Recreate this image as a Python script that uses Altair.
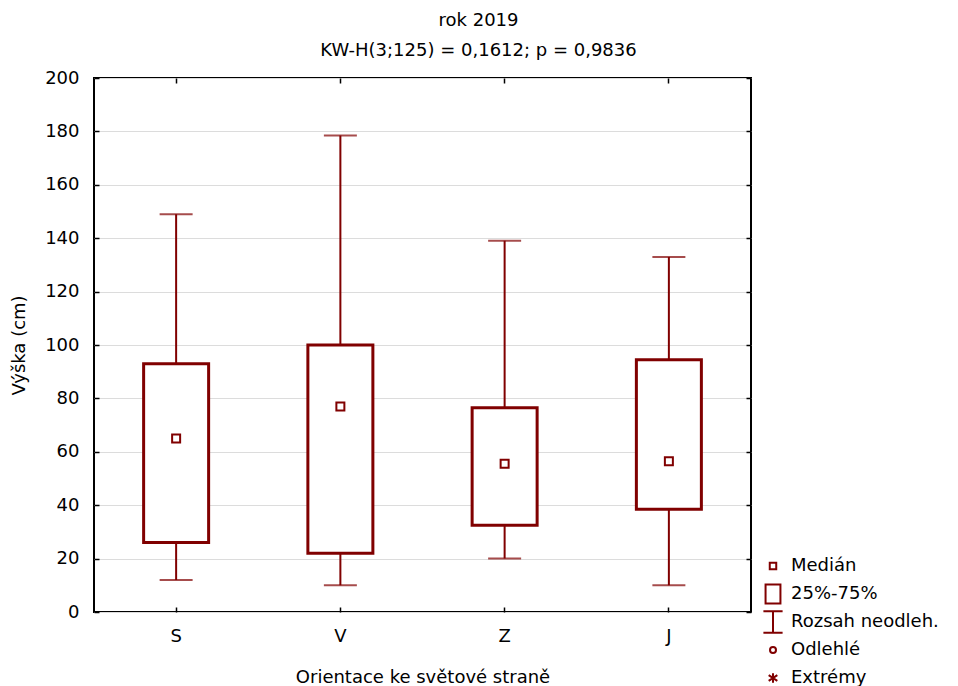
import altair as alt
import pandas as pd

# Box-plot statistics per orientation
categories = ["S", "V", "Z", "J"]
medians = [65, 77, 55.5, 56.5]
q1 = [26, 22, 32.5, 38.5]
q3 = [93, 100, 76.5, 94.5]
whisker_low = [12, 10, 20, 10]
whisker_high = [149, 178.5, 139, 133]

y_ticks = list(range(0, 201, 20))

legend_items = ["Medián", "25%-75%", "Rozsah neodleh.", "Odlehlé", "Extrémy"]
# custom legend glyphs in Vega's unit symbol space (1 unit = sqrt(size)/2 px)
legend_paths = [
    "M-0.27,-0.27H0.27V0.27H-0.27Z",
    "M-0.62,-0.8H0.62V0.8H-0.62Z",
    "M-0.8,-0.9H0.8M0,-0.9V0.9M-0.8,0.9H0.8",
    "M0.25,0A0.25,0.25,0,1,1,-0.25,0A0.25,0.25,0,1,1,0.25,0Z",
    "M0,-0.4V0.4M-0.36,-0.24L0.36,0.24M-0.36,0.24L0.36,-0.24",
]

DARK_RED = "#800000"
FONT = "DejaVu Sans"
FONT_SIZE = 18

df = pd.DataFrame({
    "cat": categories,
    "med": medians,
    "q1": q1,
    "q3": q3,
    "lo": whisker_low,
    "hi": whisker_high,
})

x_scale = alt.Scale(domain=categories, paddingInner=0, paddingOuter=0)
y_scale = alt.Scale(domain=[0, 200], nice=False, zero=True)

x_bottom = alt.Axis(
    orient="bottom", title="Orientace ke světové straně", labelAngle=0,
    domain=False, grid=False, offset=-5, tickSize=5, tickWidth=1.5,
    tickColor="black", labelPadding=15, titlePadding=23,
)
y_left = alt.Axis(
    orient="left", title="Výška (cm)", values=y_ticks, domain=False,
    grid=True, gridColor="#dcdcdc", gridWidth=1.2, offset=-5, tickSize=5,
    tickWidth=1.5, tickColor="black", labelPadding=15, titlePadding=16,
)
x_top = alt.Axis(
    orient="top", title=None, labels=False, domain=False, grid=False,
    offset=-5, tickSize=5, tickWidth=1.5, tickColor="black",
)
y_right = alt.Axis(
    orient="right", title=None, labels=False, domain=False, grid=False,
    values=y_ticks, offset=-5, tickSize=5, tickWidth=1.5, tickColor="black",
)

base = alt.Chart(df)

whiskers = base.mark_rule(color=DARK_RED, strokeWidth=2).encode(
    x=alt.X("cat:N", scale=x_scale, sort=categories, axis=x_bottom),
    y=alt.Y("lo:Q", scale=y_scale, axis=y_left),
    y2="hi:Q",
)

cap_low = base.mark_tick(color=DARK_RED, size=33, thickness=2).encode(
    x=alt.X("cat:N", scale=x_scale, sort=categories, axis=None),
    y=alt.Y("lo:Q", scale=y_scale, axis=None),
)
cap_high = base.mark_tick(color=DARK_RED, size=33, thickness=2).encode(
    x=alt.X("cat:N", scale=x_scale, sort=categories, axis=None),
    y=alt.Y("hi:Q", scale=y_scale, axis=None),
)

boxes = base.mark_bar(size=65, fill="white", stroke=DARK_RED, strokeWidth=3).encode(
    x=alt.X("cat:N", scale=x_scale, sort=categories, axis=x_top),
    y=alt.Y("q1:Q", scale=y_scale, axis=y_right),
    y2="q3:Q",
)

median_pts = base.mark_point(
    shape="square", size=64, filled=False, color=DARK_RED, strokeWidth=2, opacity=1
).encode(
    x=alt.X("cat:N", scale=x_scale, sort=categories, axis=None),
    y=alt.Y("med:Q", scale=y_scale, axis=None),
)

legend_layer = alt.Chart(pd.DataFrame({"item": legend_items})).mark_point(
    opacity=0, filled=False
).encode(
    shape=alt.Shape(
        "item:N",
        sort=legend_items,
        scale=alt.Scale(domain=legend_items, range=legend_paths),
        legend=alt.Legend(
            title=None, orient="none", legendX=666, legendY=475,
            symbolSize=576, symbolStrokeColor=DARK_RED, symbolStrokeWidth=2,
            symbolFillColor="white", symbolOpacity=1, labelFont=FONT,
            labelFontSize=FONT_SIZE, labelColor="black", labelOffset=5,
            gridAlign="all", rowPadding=-2, padding=0,
        ),
    )
)

chart = alt.layer(
    whiskers, cap_low, cap_high, boxes, median_pts, legend_layer
).resolve_axis(
    x="independent", y="independent"
).properties(
    width=657,
    height=534,
    padding={"left": 94, "top": 78, "right": 207, "bottom": 74},
    autosize="none",
    title=alt.Title(
        text=["rok 2019", "KW-H(3;125) = 0,1612; p = 0,9836"],
        font=FONT, fontSize=FONT_SIZE, fontWeight="normal", color="black",
        anchor="middle", dx=56, offset=9, lineHeight=30,
    ),
).configure_view(
    stroke="black", strokeWidth=2
).configure_axis(
    labelFont=FONT, titleFont=FONT, labelFontSize=FONT_SIZE,
    titleFontSize=FONT_SIZE, titleFontWeight="normal", labelColor="black",
    titleColor="black",
)

chart.save("out.html", embed_options={"renderer": "svg", "actions": False})
